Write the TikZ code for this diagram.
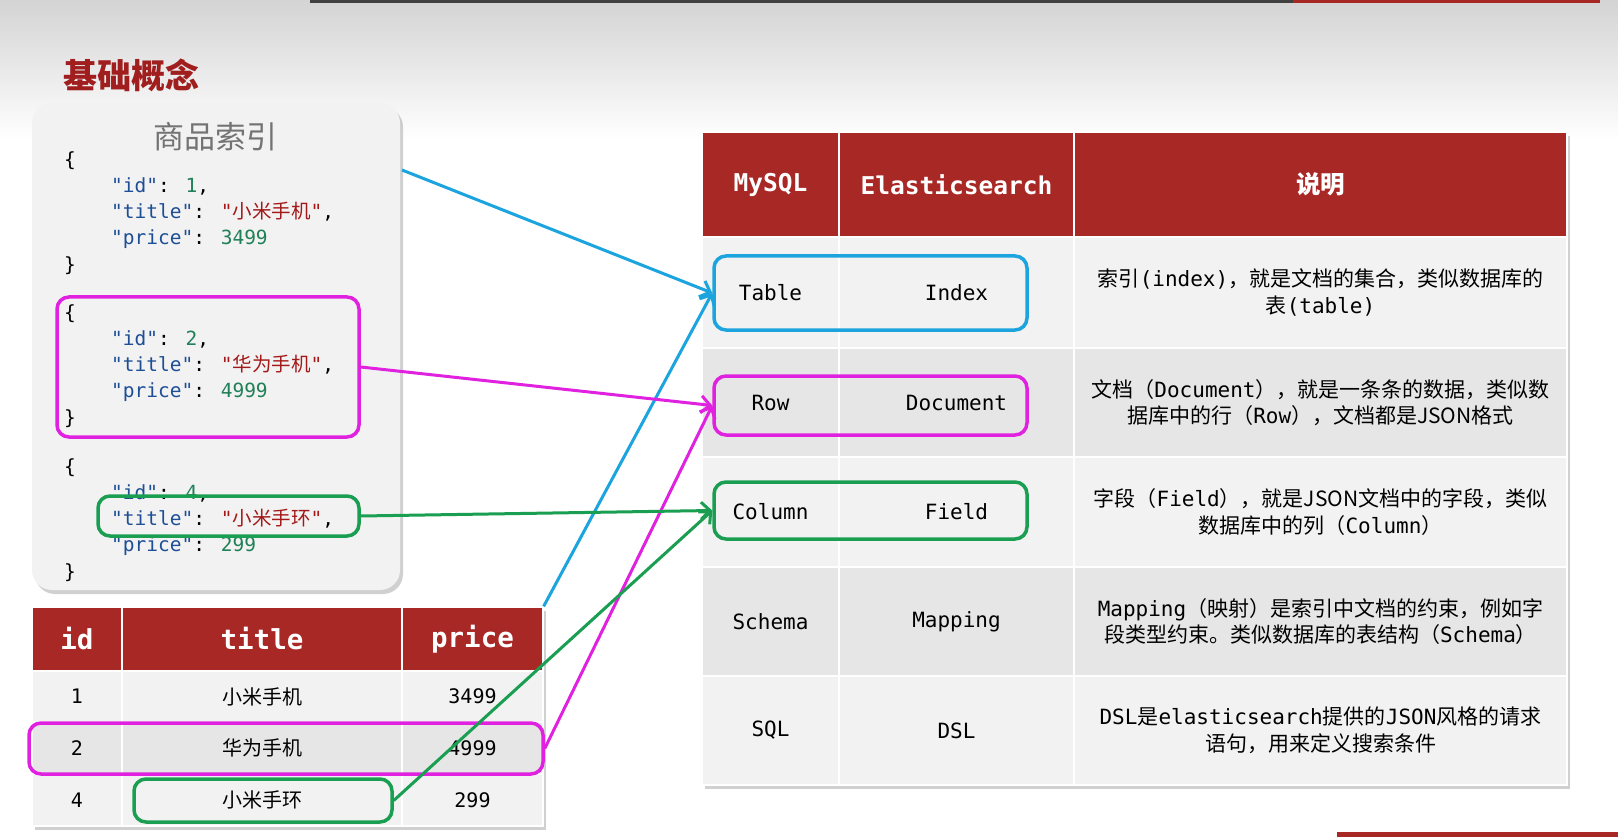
\documentclass[tikz,border=0pt]{standalone}
\usepackage{fontspec}
\setmainfont{DejaVu Sans Mono}[Ligatures=TeXOff]
\newfontfamily\cjk{Noto Sans CJK SC}
\definecolor{esred}{RGB}{168,40,38}
\definecolor{estitle}{RGB}{160,30,30}
\definecolor{esgray}{RGB}{242,242,242}
\definecolor{esgrayd}{RGB}{230,230,230}
\definecolor{hlblue}{RGB}{28,164,222}
\definecolor{hlpink}{RGB}{224,34,224}
\definecolor{hlgreen}{RGB}{26,158,82}
\definecolor{jkey}{RGB}{30,78,150}
\definecolor{jnum}{RGB}{32,128,88}
\definecolor{jstr}{RGB}{163,24,24}
\usetikzlibrary{arrows.meta,shadows}
\newcommand\zh[1]{{\cjk #1}}
\newcommand\jkey[1]{\textcolor{jkey}{"#1"}}
\newcommand\jnum[1]{\textcolor{jnum}{#1}}
\newcommand\jstr[1]{\textcolor{jstr}{"\zh{#1}"}}
\newcommand\jind{\hspace*{47pt}}

\begin{document}
\begin{tikzpicture}[x=1pt,y=-1pt,
  cell/.style={draw=white,line width=1.2pt,inner sep=0pt,align=center,
    font=\fontsize{21}{26.5}\selectfont},
  hdr/.style={cell,fill=esred,text=white,font=\fontsize{24.5}{28}\selectfont\bfseries},
  c1/.style={minimum width=137pt},
  c2/.style={minimum width=235pt},
  c3/.style={minimum width=493pt},
  bcell/.style={cell,font=\fontsize{20}{24}\selectfont},
  bhdr/.style={hdr,minimum height=64pt,font=\fontsize{27.5}{30}\selectfont\bfseries},
  hl/.style={draw=#1,line width=3.5pt,rounded corners=12pt,inner sep=0pt},
  arr/.style={-{Straight Barb[length=9pt,width=17pt]},line width=3pt,#1},
  json/.style={anchor=north west,inner sep=0pt,align=left,
    font=\fontsize{19.5}{26.3}\selectfont},
  card/.style={fill=esgray,rounded corners=20pt,inner sep=0pt,
    drop shadow={shadow xshift=3pt,shadow yshift=-4pt,opacity=.3,fill=black!60}},
  tshadow/.style={fill=white,drop shadow={shadow xshift=3pt,shadow yshift=-4pt,opacity=.3,fill=black!60}}
]
  \useasboundingbox (0,0) rectangle (1618,837);
  \fill[white] (0,0) rectangle (1618,837);
  \shade[top color=black!17,bottom color=white] (0,0) rectangle (1618,140);
  \fill[black!75] (310,0) rectangle (1293,3);
  \fill[esred] (1293,0) rectangle (1600,3);
  \fill[esred] (1337,832) rectangle (1618,837);

  % Title
  \node[font=\fontsize{34}{34}\cjk\bfseries,text=estitle,anchor=west] (title) at (60,75) {基础概念};

  % Index card with JSON documents
  \node[card,minimum width=368pt,minimum height=487pt] (card) at (216,346.5) {};
  \node[font=\fontsize{31}{31}\cjk,text=black!55] (cardtitle) at (215,137) {商品索引};
  \node[json] (doc1) at (64,151) {\{\\\jind\jkey{id}: \jnum{1},\\\jind\jkey{title}: \jstr{小米手机},\\\jind\jkey{price}: \jnum{3499}\\\}};
  \node[json] (doc2) at (64,304) {\{\\\jind\jkey{id}: \jnum{2},\\\jind\jkey{title}: \jstr{华为手机},\\\jind\jkey{price}: \jnum{4999}\\\}};
  \node[json] (doc4) at (64,458) {\{\\\jind\jkey{id}: \jnum{4},\\\jind\jkey{title}: \jstr{小米手环},\\\jind\jkey{price}: \jnum{299}\\\}};
  \coordinate (cardout) at (402,170);

  % MySQL table
  \path[tshadow] (32,607) rectangle (543,826);
  \node[bhdr,minimum width=90pt] (hid) at (77,639) {id};
  \node[bhdr,minimum width=280pt] (htitle) at (262,639) {title};
  \node[bhdr,minimum width=141pt] (hprice) at (472.5,639) {price};
  \node[bcell,fill=esgray,minimum width=90pt,minimum height=51pt] (id1) at (77,696.5) {1};
  \node[bcell,fill=esgray,minimum width=280pt,minimum height=51pt] (t1) at (262,696.5) {\zh{小米手机}};
  \node[bcell,fill=esgray,minimum width=141pt,minimum height=51pt] (p1) at (472.5,696.5) {3499};
  \node[bcell,fill=esgrayd,minimum width=90pt,minimum height=52pt] (id2) at (77,748) {2};
  \node[bcell,fill=esgrayd,minimum width=280pt,minimum height=52pt] (t2) at (262,748) {\zh{华为手机}};
  \node[bcell,fill=esgrayd,minimum width=141pt,minimum height=52pt] (p2) at (472.5,748) {4999};
  \node[bcell,fill=esgray,minimum width=90pt,minimum height=52pt] (id4) at (77,800) {4};
  \node[bcell,fill=esgray,minimum width=280pt,minimum height=52pt] (t4) at (262,800) {\zh{小米手环}};
  \node[bcell,fill=esgray,minimum width=141pt,minimum height=52pt] (p4) at (472.5,800) {299};

  % Comparison table
  \path[tshadow] (702,132) rectangle (1567,785);
  \node[hdr,c1,minimum height=105pt] (hmy) at (770.5,184.5) {MySQL};
  \node[hdr,c2,minimum height=105pt] (hes) at (956.5,184.5) {Elasticsearch};
  \node[hdr,c3,minimum height=105pt] (hdesc) at (1320.5,184.5) {\zh{说明}};

  \node[cell,c1,fill=esgray,minimum height=111pt] (tbl) at (770.5,292.5) {Table};
  \node[cell,c2,fill=esgray,minimum height=111pt] (idx) at (956.5,292.5) {Index};
  \node[cell,c3,fill=esgray,minimum height=111pt] (didx) at (1320.5,292.5)
    {\zh{索引}(index)\zh{，就是文档的集合，类似数据库的}\\\zh{表}(table)};

  \node[cell,c1,fill=esgrayd,minimum height=109pt] (row) at (770.5,402.5) {Row};
  \node[cell,c2,fill=esgrayd,minimum height=109pt] (doc) at (956.5,402.5) {Document};
  \node[cell,c3,fill=esgrayd,minimum height=109pt] (ddoc) at (1320.5,402.5)
    {\zh{文档（}Document\zh{），就是一条条的数据，类似数}\\\zh{据库中的行（}Row\zh{），文档都是JSON格式}};

  \node[cell,c1,fill=esgray,minimum height=110pt] (col) at (770.5,512) {Column};
  \node[cell,c2,fill=esgray,minimum height=110pt] (fld) at (956.5,512) {Field};
  \node[cell,c3,fill=esgray,minimum height=110pt] (dfld) at (1320.5,512)
    {\zh{字段（}Field\zh{），就是JSON文档中的字段，类似}\\\zh{数据库中的列（}Column\zh{）}};

  \node[cell,c1,fill=esgrayd,minimum height=109pt] (sch) at (770.5,621.5) {Schema};
  \node[cell,c2,fill=esgrayd,minimum height=109pt] (map) at (956.5,621.5) {Mapping};
  \node[cell,c3,fill=esgrayd,minimum height=109pt] (dmap) at (1320.5,621.5)
    {Mapping\zh{（映射）是索引中文档的约束，例如字}\\\zh{段类型约束。类似数据库的表结构（}Schema\zh{）}};

  \node[cell,c1,fill=esgray,minimum height=109pt] (sql) at (770.5,730.5) {SQL};
  \node[cell,c2,fill=esgray,minimum height=109pt] (dsl) at (956.5,730.5) {DSL};
  \node[cell,c3,fill=esgray,minimum height=109pt] (ddsl) at (1320.5,730.5)
    {DSL\zh{是}elasticsearch\zh{提供的}JSON\zh{风格的请求}\\\zh{语句，用来定义搜索条件}};

  % Highlights
  \node[hl=hlpink,minimum width=302pt,minimum height=140pt] (doc2box) at (208,367) {};
  \node[hl=hlgreen,minimum width=261pt,minimum height=40pt] (doc4box) at (228.5,516) {};
  \node[hl=hlpink,minimum width=514pt,minimum height=51pt] (row2box) at (286,748.5) {};
  \node[hl=hlgreen,minimum width=258pt,minimum height=43pt] (cell4box) at (263,800.5) {};
  \node[hl=hlblue,minimum width=313pt,minimum height=74pt] (idxbox) at (870.5,293) {};
  \node[hl=hlpink,minimum width=313pt,minimum height=59pt] (docbox) at (870.5,405.5) {};
  \node[hl=hlgreen,minimum width=313pt,minimum height=57pt] (fldbox) at (870.5,510.5) {};

  % Links
  \draw[arr=hlblue] (cardout) -- (idxbox.west);
  \draw[arr=hlblue] (hprice.north east) -- (idxbox.west);
  \draw[arr=hlpink] (doc2box.east) -- (docbox.west);
  \draw[arr=hlpink] (row2box.east) -- (docbox.west);
  \draw[arr=hlgreen] (doc4box.east) -- (fldbox.west);
  \draw[arr=hlgreen] (cell4box.east) -- (fldbox.west);
\end{tikzpicture}
\end{document}
